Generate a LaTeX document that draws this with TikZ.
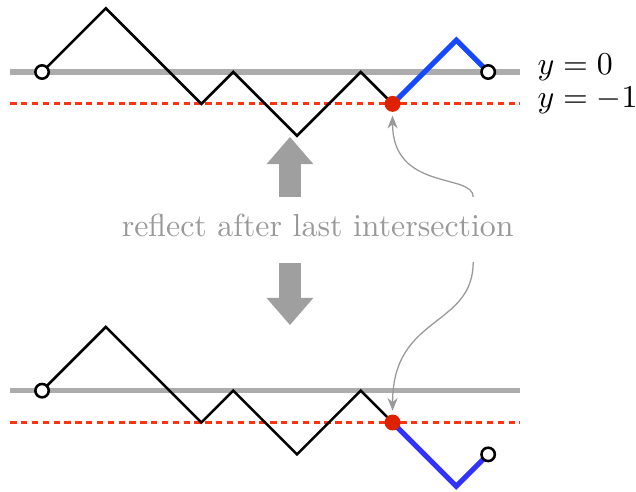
\documentclass[tikz,border=0pt]{standalone}
\usepackage{tikz}
\usetikzlibrary{arrows.meta,positioning}
\definecolor{pathblue}{RGB}{22,72,255}
\definecolor{flipblue}{RGB}{50,50,255}
\definecolor{hitred}{RGB}{222,34,0}
\definecolor{dashred}{RGB}{255,51,17}

\begin{document}
\begin{tikzpicture}[x=10pt, y=10pt,
    zero/.style={gray!65, line width=1.6pt},
    floor/.style={dashred, line width=1pt, dash pattern=on 2pt off 1.4pt},
    walk/.style={black, line width=0.8pt},
    tail/.style={line width=1.6pt},
    endpt/.style={circle, draw=black, fill=white, line width=0.8pt, inner sep=0pt, minimum size=4.2pt},
    hit/.style={circle, fill=hitred, inner sep=0pt, minimum size=5pt},
    level/.style={anchor=base west, inner sep=0pt},
    bigarrow/.style={gray!75, line width=7pt, -{Triangle[width=14.7pt, length=8.5pt, line width=0pt]}},
    pointer/.style={gray!80, line width=0.4pt, -{Stealth[length=4pt, width=3.2pt]}, shorten >=1pt}]
    \useasboundingbox (-1.32,2.26) rectangle (18.64,-13.18);

    % the walk, before (A) and after (B) the reflection
    \foreach \lift/\flip/\tailcol/\n in {0/1/pathblue/A, -10/-1/flipblue/B} {
        \draw[zero] (-1,\lift) -- (15,\lift);
        \draw[floor] (-1,\lift-1) -- (15,\lift-1);
        \coordinate (s\n) at (0,\lift);
        \coordinate (c\n) at (11,\lift-1);
        \draw[walk] (s\n) -- ++(2,2) -- ++(3,-3) -- ++(1,1) -- ++(2,-2) -- ++(2,2) -- (c\n);
        \draw[tail, \tailcol] (c\n) -- ++(2,2*\flip) -- ++(1,-1*\flip) coordinate (e\n);
        \node[endpt] (start\n) at (s\n) {};
        \node[endpt] (end\n) at (e\n) {};
        \node[hit] (hit\n) at (c\n) {};
    }

    % levels
    \node[level] (lzero) at (15.53,-0.08) {$y=0$};
    \node[level] (lfloor) at (15.53,-1.12) {$y=-1$};

    % middle part
    \node[text=gray!80, anchor=base] (note) at (8.65,-5.15) {reflect after last intersection};
    \coordinate (upfoot) at (7.78,-3.92);
    \coordinate (uptip) at (7.78,-2.04);
    \coordinate (downfoot) at (7.78,-6.0);
    \coordinate (downtip) at (7.78,-7.94);
    \draw[bigarrow] (upfoot) -- (uptip);
    \draw[bigarrow] (downfoot) -- (downtip);

    \coordinate (noteup) at (13.53,-3.92);
    \coordinate (notedown) at (13.53,-5.96);
    \draw[pointer] (noteup) .. controls +(0,0.75) and +(0,-2.75) .. (hitA);
    \draw[pointer] (notedown) .. controls +(0,-2.07) and +(0,3.4) .. (hitB);
\end{tikzpicture}
\end{document}
